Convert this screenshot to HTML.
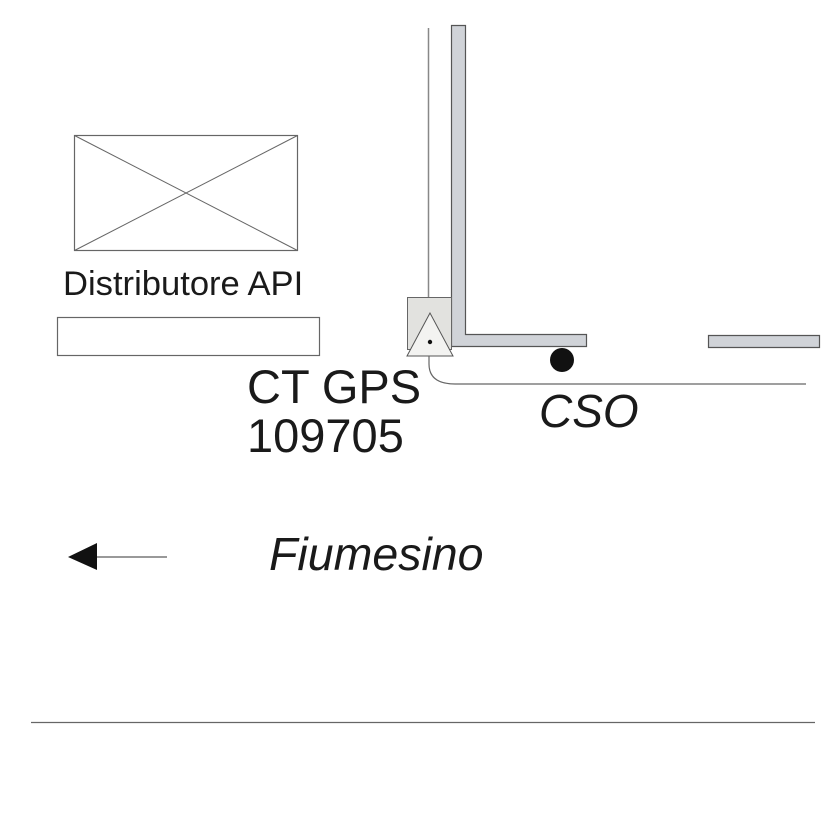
<!DOCTYPE html>
<html><head><meta charset="utf-8"><style>
html,body{margin:0;padding:0;background:#fff;}
svg{display:block;}
text{font-family:"Liberation Sans",Arial,sans-serif;fill:#1a1a1a;}
</style></head><body>
<svg width="827" height="827" viewBox="0 0 827 827" xmlns="http://www.w3.org/2000/svg">
<rect width="827" height="827" fill="#fff"/>
<!-- Distributore box with X -->
<rect x="74.5" y="135.5" width="223" height="115" fill="none" stroke="#666" stroke-width="1.2"/>
<line x1="74.5" y1="135.5" x2="297.5" y2="250.5" stroke="#666" stroke-width="1"/>
<line x1="297.5" y1="135.5" x2="74.5" y2="250.5" stroke="#666" stroke-width="1"/>
<text x="63" y="295" font-size="34.6">Distributore API</text>
<rect x="57.5" y="317.5" width="262" height="38" fill="none" stroke="#666" stroke-width="1.2"/>
<!-- thin vertical line -->
<line x1="428.5" y1="28" x2="428.5" y2="297" stroke="#888" stroke-width="1.5"/>
<!-- L wall -->
<path d="M451.5 25.5 H465.5 V334.5 H586.5 V346.5 H451.5 Z" fill="#d0d3d8" stroke="#555" stroke-width="1.2"/>
<!-- right wall segment -->
<path d="M819.5 335.5 H708.5 V347.5 H819.5 Z" fill="#d0d3d8" stroke="#555" stroke-width="1.2"/>
<!-- square -->
<rect x="407.5" y="297.5" width="44" height="52" fill="#e2e2df" stroke="#666" stroke-width="1"/>
<!-- triangle -->
<polygon points="430,313 407,356 453,356" fill="#f3f3f1" stroke="#555" stroke-width="1"/>
<circle cx="430" cy="342" r="2.2" fill="#111"/>
<!-- curved line -->
<path d="M429 356 V364 Q429 384 455 384 H806" fill="none" stroke="#666" stroke-width="1.2"/>
<!-- black dot -->
<circle cx="562" cy="360" r="12" fill="#111"/>
<!-- labels -->
<text x="247" y="403" font-size="47">CT GPS</text>
<text x="247" y="452" font-size="47">109705</text>
<text x="539" y="427" font-size="46">
<tspan font-style="italic">CSO</tspan></text>
<!-- arrow -->
<line x1="95" y1="557" x2="167" y2="557" stroke="#333" stroke-width="1"/>
<polygon points="68,557 97,543 97,570" fill="#111"/>
<text x="269" y="570" font-size="46.5" font-style="italic">Fiumesino</text>
<!-- bottom line -->
<line x1="31" y1="722.5" x2="815" y2="722.5" stroke="#666" stroke-width="1.3"/>
</svg>
</body></html>
